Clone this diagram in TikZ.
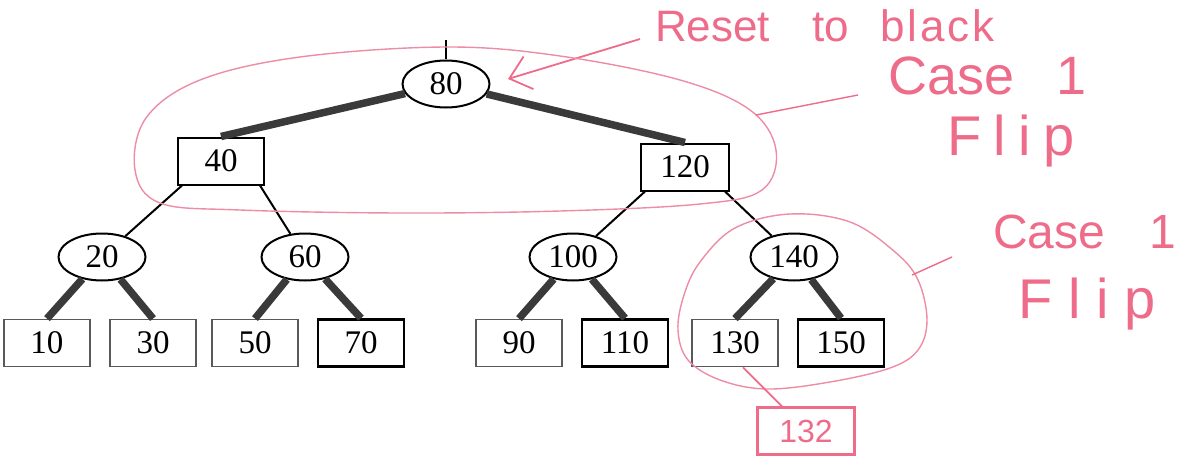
\documentclass[tikz,border=0pt]{standalone}
\usepackage{fontspec}
\setmainfont{Liberation Serif}
\newfontfamily\handfont{Liberation Sans}
\usetikzlibrary{arrows.meta,shapes.geometric,positioning}
\definecolor{pen}{RGB}{238,108,138}
\definecolor{penlight}{RGB}{236,140,165}
\definecolor{linkgray}{RGB}{58,58,58}

\tikzset{
  rednode/.style={ellipse, draw, line width=2pt, minimum width=87pt, minimum height=47pt, inner sep=0pt, font=\fontsize{33}{35}\selectfont},
  blacknode/.style={rectangle, draw, line width=2pt, minimum width=86pt, minimum height=47pt, inner sep=0pt, font=\fontsize{33}{35}\selectfont},
  leaf/.style={blacknode, draw=black!65, line width=1.8pt},
  boldleaf/.style={blacknode, line width=2.6pt},
  redlink/.style={draw=linkgray, line width=7.5pt},
  blacklink/.style={draw=black, line width=2pt},
  ink/.style={draw=penlight, line width=1.4pt},
  hand/.style={text=pen, inner sep=0pt, anchor=base west},
}

\begin{document}
\begin{tikzpicture}[x=1pt, y=-1pt, node distance=106pt]
\useasboundingbox (0,0) rectangle (1183,460);

% tree
\node [rednode] (80) at (446,84) {80};
\node [blacknode] (40) at (221,161) {40};
\node [blacknode, minimum width=88pt] (120) at (685,167) {120};
\node [rednode] (20) at (102,257) {20};
\node [rednode] (60) at (305,257) {60};
\node [rednode] (100) at (573,257) {100};
\node [rednode] (140) at (794,257) {140};
\node [leaf] (10) at (47,343) {10};
\node [leaf] (30) [right of=10] {30};
\node [leaf] (50) at (255,343) {50};
\node [boldleaf] (70) [right of=50] {70};
\node [leaf] (90) at (519,343) {90};
\node [boldleaf] (110) [right of=90] {110};
\node [leaf] (130) at (735,343) {130};
\node [boldleaf] (150) [right of=130] {150};

\coordinate (root) at (446,40);
\draw [line width=1.5pt] (root) -- (80.north);

\draw [redlink] (80) -- (40.north);
\draw [redlink] (80) -- (120.north);
\draw [blacklink] ([xshift=5pt]40.south west) -- (20);
\draw [blacklink] ([xshift=-5pt]40.south east) -- (60);
\draw [blacklink] ([xshift=5pt]120.south west) -- (100);
\draw [blacklink] ([xshift=-5pt]120.south east) -- (140);
\draw [redlink] (20) -- (10.north);
\draw [redlink] (20) -- (30.north);
\draw [redlink] (60) -- (50.north);
\draw [redlink] (60) -- (70.north);
\draw [redlink] (100) -- (90.north);
\draw [redlink] (100) -- (110.north);
\draw [redlink] (140) -- (130.north);
\draw [redlink] (140) -- (150.north);

% pen notes
\node [hand, font=\handfont\fontsize{44}{46}\selectfont] (reset) at (655,42) {Reset\hspace{42pt}to\hspace{32pt}{\addfontfeature{LetterSpace=6}black}};
\coordinate (tip) at (508,79);
\draw [draw=pen, line width=1.8pt, -{Straight Barb[length=20pt,width=34pt]}] ([xshift=-15pt,yshift=3pt]reset.base west) -- (tip);

\draw [ink] plot [smooth cycle, tension=0.6] coordinates {(446,47) (560,56) (680,80) (750,110) (776,150) (762,190) (700,204) (560,211) (400,213) (240,210) (160,203) (135,170) (146,118) (200,80) (300,57)};
\coordinate (t1a) at (756,115);
\coordinate (t1b) at (858,95);
\draw [ink, draw=pen] (t1a) -- (t1b);

\node [hand, font=\handfont\fontsize{54}{56}\selectfont] (case1) at (888,94) {Case\hspace{42pt}1};
\node [hand, font=\handfont\fontsize{56}{58}\selectfont] (flip1) at (947,155) {\addfontfeature{LetterSpace=22}Flip};

\draw [ink] plot [smooth cycle, tension=0.6] coordinates {(700,262) (735,228) (790,214) (850,222) (895,252) (918,280) (927,320) (918,350) (890,368) (830,382) (767,389) (720,380) (688,360) (678,330) (684,295)};
\coordinate (t2a) at (912,275);
\coordinate (t2b) at (952,257);
\draw [ink, draw=pen] (t2a) -- (t2b);

\node [hand, font=\handfont\fontsize{48}{50}\selectfont] (case2) at (993,248) {Case\hspace{44pt}1};
\node [hand, font=\handfont\fontsize{56}{58}\selectfont] (flip2) at (1018,318) {\addfontfeature{LetterSpace=28}Flip};

\node [draw=pen, line width=2.4pt, minimum width=97pt, minimum height=47pt, text=pen, font=\handfont\fontsize{32}{34}\selectfont] (132) at (806,431) {132};
\draw [draw=pen, line width=1.8pt] ([xshift=8pt]130.south) -- ([xshift=-24pt]132.north);
\end{tikzpicture}
\end{document}
